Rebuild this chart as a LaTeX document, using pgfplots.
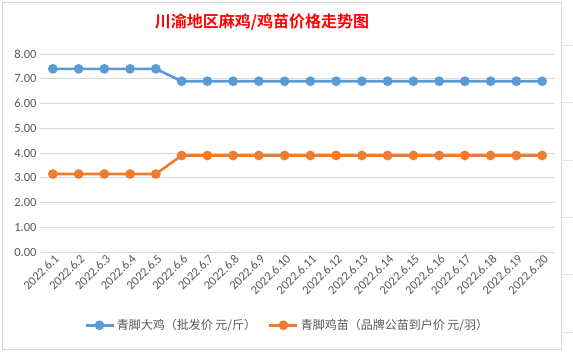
\documentclass[border=0pt]{standalone}
\usepackage{pgfplots}
\pgfplotsset{compat=1.18}
\usepackage{fontspec}
\setmainfont{Carlito}
\newfontfamily\cjk{Noto Sans CJK SC}
\newfontfamily\cjkb{Noto Sans CJK SC Bold}
\definecolor{cblue}{HTML}{5B9BD5}
\definecolor{corange}{HTML}{ED7D31}
\definecolor{cgrid}{HTML}{D9D9D9}
\definecolor{ctext}{HTML}{595959}
\begin{document}
\begin{tikzpicture}[x=1pt,y=1pt]
\useasboundingbox (0,0) rectangle (573,352);
\fill[white] (0,0) rectangle (573,352);
\draw[cgrid,line width=0.8pt] (2,3) rectangle (561,350);
\foreach \yy in {20,78,135,192,250,307} {\draw[cgrid!70] (561,\yy) -- (573,\yy);}
\node[font=\cjkb\fontsize{16}{18}\selectfont, text=red] at (262,330) {川渝地区麻鸡/鸡苗价格走势图};
\begin{axis}[
  at={(40pt,100pt)}, anchor=south west,
  scale only axis, width=515pt, height=198pt,
  xmin=-0.5, xmax=19.5, ymin=0, ymax=8,
  axis line style={draw=none},
  ytick={0,1,...,8},
  yticklabel style={/pgf/number format/fixed,/pgf/number format/fixed zerofill,/pgf/number format/precision=2, text=ctext, font=\fontsize{12.5}{13}\selectfont},
  /pgf/number format/assume math mode=true,
  ymajorgrids, grid style={cgrid, line width=0.8pt},
  major tick length=0pt,
  xtick={0,...,19},
  xticklabels={2022.6.1,2022.6.2,2022.6.3,2022.6.4,2022.6.5,2022.6.6,2022.6.7,2022.6.8,2022.6.9,2022.6.10,2022.6.11,2022.6.12,2022.6.13,2022.6.14,2022.6.15,2022.6.16,2022.6.17,2022.6.18,2022.6.19,2022.6.20},
  xticklabel style={rotate=45, anchor=east, text=ctext, font=\fontsize{12.5}{13}\selectfont, xshift=3pt, yshift=-6pt},
  legend style={at={(0.48,-0.37)}, anchor=center, draw=none, legend columns=2, font=\cjk\fontsize{12}{13}\selectfont, text=ctext, /tikz/every even column/.append style={column sep=10pt}},
  legend image code/.code={\draw[#1] (0pt,0pt) -- (28pt,0pt); \fill[#1] (14pt,0pt) circle (3.5pt);},
]
\addplot[cblue, line width=2.6pt, mark=*, mark size=3.5pt] coordinates {
(0,7.4)(1,7.4)(2,7.4)(3,7.4)(4,7.4)(5,6.9)(6,6.9)(7,6.9)(8,6.9)(9,6.9)(10,6.9)(11,6.9)(12,6.9)(13,6.9)(14,6.9)(15,6.9)(16,6.9)(17,6.9)(18,6.9)(19,6.9)};
\addlegendentry{青脚大鸡（批发价 元/斤）}
\addplot[corange, line width=2.6pt, mark=*, mark size=3.5pt] coordinates {
(0,3.15)(1,3.15)(2,3.15)(3,3.15)(4,3.15)(5,3.9)(6,3.9)(7,3.9)(8,3.9)(9,3.9)(10,3.9)(11,3.9)(12,3.9)(13,3.9)(14,3.9)(15,3.9)(16,3.9)(17,3.9)(18,3.9)(19,3.9)};
\addlegendentry{青脚鸡苗（品牌公苗到户价 元/羽）}
\end{axis}
\end{tikzpicture}
\end{document}
